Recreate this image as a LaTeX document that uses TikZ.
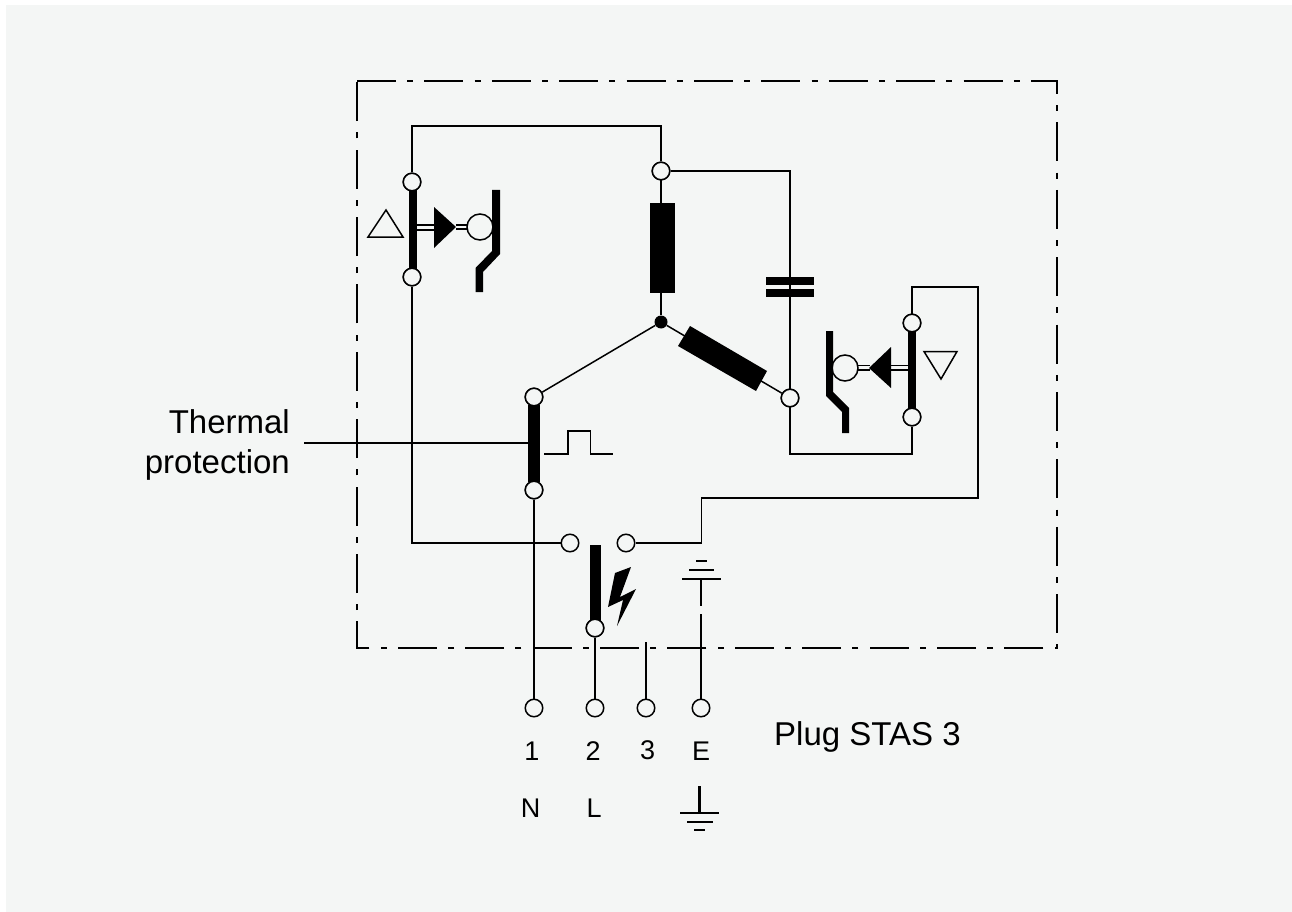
\documentclass[tikz,border=0pt]{standalone}
\usepackage{fontspec}
\setmainfont{Liberation Sans}
\definecolor{panel}{HTML}{F4F6F5}
\tikzset{
  wire/.style={draw=black,line width=1.5pt},
  term/.style={circle,draw=black,line width=1.5pt,fill=panel,minimum size=17.5pt,inner sep=0pt},
  bar/.style={draw=none,fill=black},
  earth/.style={draw=black,line width=2.6pt},
  border/.style={draw=black,line width=1.5pt,dash pattern=on 39pt off 11.2pt on 6pt off 11.2pt},
  lbl/.style={inner sep=0pt,font=\fontsize{27}{32}\selectfont},
  big/.style={inner sep=0pt,font=\fontsize{33}{40}\selectfont}
}
\begin{document}
\begin{tikzpicture}[x=1pt,y=-1pt]
\useasboundingbox (0,0) rectangle (1292,912);
\fill[white] (0,0) rectangle (1292,912);
\fill[panel] (6,5) rectangle (1292,912);
% dash-dot enclosure
\coordinate (bTL) at (357,81); \coordinate (bTR) at (1057,81);
\coordinate (bBR) at (1057,648); \coordinate (bBL) at (357,648);
\draw[border] (bTL) -- (bTR) -- (bBR) -- (bBL) -- cycle;
% terminals
\node[term] (a1) at (412,182) {};
\node[term] (a2) at (412,277) {};
\node[term] (top) at (661,171) {};
\node[circle,fill=black,minimum size=13pt,inner sep=0pt] (star) at (661,322) {};
\node[term] (th1) at (534,397) {};
\node[term] (th2) at (534,490) {};
\node[term] (cw) at (790,398) {};
\node[term] (b1) at (912,323) {};
\node[term] (b2) at (912,417) {};
\node[term] (sw1) at (570,543) {};
\node[term] (sw2) at (626,543) {};
\node[term] (sw3) at (595,628) {};
\node[term] (p1) at (534,708) {};
\node[term] (p2) at (595,708) {};
\node[term] (p3) at (646,708) {};
\node[term] (pE) at (701,708) {};
\coordinate (c3) at (646,642);
\coordinate (eA) at (701,606);
\coordinate (eB) at (701,614);
\coordinate (eC) at (701,579);
\coordinate (thL) at (304,443);
\coordinate (thR) at (528,443);
\coordinate (nTop) at (412,126);
\coordinate (nCap) at (790,171);
\coordinate (nLow) at (790,454);
\coordinate (nLowR) at (912,454);
\coordinate (nA) at (412,543);
\coordinate (nB) at (701.5,543);
\coordinate (nC) at (701.5,498);
\coordinate (nD) at (978,498);
\coordinate (nE) at (978,287);
\coordinate (nF) at (912,287);
% wires
\draw[wire] (a1) -- (nTop) -| (top);
\draw[wire] (top) -- (nCap) -- (nLow) -- (nLowR) -- (b2);
\draw[wire] (top) -- (star);
\draw[wire] (star) -- (th1);
\draw[wire] (star) -- (cw);
\draw[wire] (a2) -- (nA) -- (sw1);
\draw[wire] (th2) -- (p1);
\draw[wire] (sw2) -- (nB) -- (nC) -- (nD) -- (nE) -- (nF) -- (b1);
\draw[wire] (sw3) -- (p2);
\draw[wire] (c3) -- (p3);
\draw[wire] (eB) -- (pE);
\draw[wire] (thL) -- (thR);
% thick bars
\fill[bar] (408.7,190) rectangle (416.7,270);
\fill[bar] (908,331) rectangle (916,409);
\fill[bar] (528,405) rectangle (540,482);
\fill[bar] (590,545) rectangle (601,621);
% redraw circles on bars
\node[term] at (a1) {};
\node[term] at (a2) {};
\node[term] at (b1) {};
\node[term] at (b2) {};
\node[term] at (th1) {};
\node[term] at (th2) {};
\node[term] at (sw3) {};
\node[term] at (cw) {};
\node[term] at (top) {};
% motor windings
\fill[bar] (650,203) rectangle (675,293);
\fill[bar] (690,326) -- (767,371) -- (756,391) -- (678,346) -- cycle;
% capacitor
\fill[bar] (766,277) rectangle (814,285);
\fill[bar] (766,289) rectangle (814,297);
% left protector
\draw[line width=1.5pt] (368,237) -- (386,210) -- (403,237) -- cycle;
\draw[line width=1.5pt] (416,225) -- (435,225) (416,230) -- (435,230);
\fill[bar] (434,207) -- (456,227) -- (434,248) -- cycle;
\draw[line width=1.5pt] (456,225) -- (468,225) (456,229) -- (468,229);
\node[circle,draw=black,line width=1.5pt,minimum size=26pt,inner sep=0pt] (mL) at (480,227) {};
\fill[bar] (492,190) -- (500,190) -- (500,254) -- (483,272) -- (483,292) -- (475.5,292) -- (475.5,268) -- (492,251) -- cycle;
% right protector
\draw[line width=1.5pt] (924,351.5) -- (957,351.5) -- (941,379) -- cycle;
\draw[line width=1.5pt] (891,365.5) -- (908,365.5) (891,370) -- (908,370);
\fill[bar] (891,347) -- (869,368) -- (891,388) -- cycle;
\draw[line width=1.5pt] (858,365.5) -- (870,365.5) (858,370) -- (870,370);
\node[circle,draw=black,line width=1.5pt,minimum size=26pt,inner sep=0pt] (mR) at (845,368) {};
\fill[bar] (826,331) -- (833,331) -- (833,392) -- (849,408) -- (849,433) -- (842,433) -- (842,412) -- (826,396) -- cycle;
% thermal pulse
\draw[line width=1.5pt] (544,454) -- (568,454) -- (568,431) -- (590.5,431) -- (590.5,454) -- (613,454);
% lightning
\fill[bar] (615,573) -- (631,567) -- (620,597) -- (636,589) -- (617,626) -- (623,600) -- (608,607) -- cycle;
% internal earth
\draw[earth] (682,579) -- (721,579);
\draw[earth] (689,570) -- (714,570);
\draw[earth] (696,561) -- (707,561);
\draw[earth] (eC) -- (eA);
% external earth
\draw[earth] (699.5,786) -- (699.5,813);
\draw[earth] (680,813) -- (719,813);
\draw[earth] (687,822) -- (713,822);
\draw[earth] (694,830) -- (705,830);
% labels
\node[big,align=right,anchor=east] (tlbl) at (290,444.5) {Thermal\\protection};
\node[big,anchor=west] (plbl) at (774,737) {Plug STAS 3};
\node[lbl] (l1) at (532,751) {1};
\node[lbl] (l2) at (593,751) {2};
\node[lbl] (l3) at (647.5,750) {3};
\node[lbl] (lE) at (701,751) {E};
\node[lbl] (lN) at (530.5,808) {N};
\node[lbl] (lL) at (594,808) {L};
\end{tikzpicture}
\end{document}
